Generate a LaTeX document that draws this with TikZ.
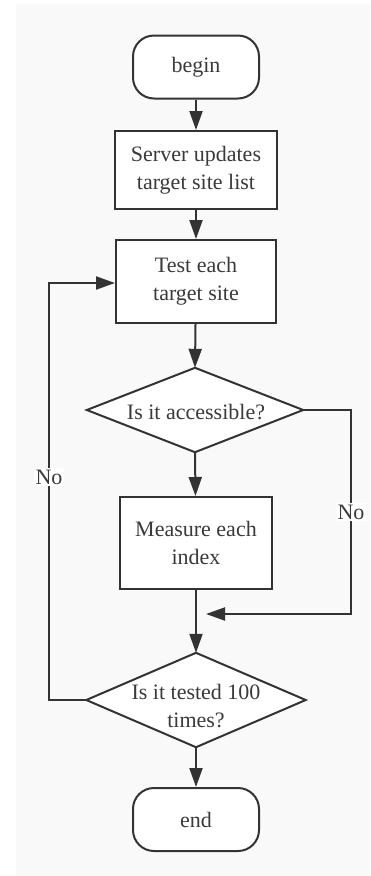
\documentclass[tikz,border=0pt]{standalone}
\usepackage{fontspec}
\setmainfont{Liberation Serif}
\usetikzlibrary{arrows.meta}
\definecolor{ink}{HTML}{333333}
\definecolor{txt}{HTML}{3A3A3A}
\definecolor{paper}{HTML}{F9F9F9}
\begin{document}
\begin{tikzpicture}[x=1pt,y=-1pt,
  every node/.style={font=\fontsize{22}{28}\selectfont, text=txt, align=center},
  terminal/.style={draw=ink, line width=2pt, fill=white, rounded corners=21pt,
    minimum width=126pt, minimum height=63pt, inner sep=0pt},
  process/.style={draw=ink, line width=2pt, fill=white, inner sep=0pt},
  decision/.style={draw=none, inner sep=0pt},
  flow/.style={draw=ink, line width=2pt, -{Triangle[length=19pt,width=13pt]}},
  plain/.style={draw=ink, line width=2pt},
  tag/.style={fill=white, inner sep=2pt}]
  % canvas
  \useasboundingbox (0,0) rectangle (370,876);
  \fill[white] (0,0) rectangle (370,876);
  \fill[paper] (16,4) rectangle (370,876);

  % nodes
  \node[terminal] (begin) at (196,67) {begin};
  \node[process, minimum width=162pt, minimum height=78pt] (server) at (196,170)
    {Server updates\\target site list};
  \node[process, minimum width=160pt, minimum height=83pt] (test) at (196,281.5)
    {Test each\\target site};

  \node[decision, minimum width=216pt, minimum height=84pt] (acc) at (195,410) {};
  \fill[white] (acc.north) -- (acc.east) -- (acc.south) -- (acc.west) -- cycle;
  \draw[plain, line join=miter] (acc.north) -- (acc.east) -- (acc.south) -- (acc.west) -- cycle;
  \node at (196,412) {Is it accessible?};

  \node[process, minimum width=152pt, minimum height=92pt] (measure) at (196,543)
    {Measure each\\index};

  \node[decision, minimum width=219pt, minimum height=94pt] (times) at (196,700) {};
  \fill[white] (times.north) -- (times.east) -- (times.south) -- (times.west) -- cycle;
  \draw[plain, line join=miter] (times.north) -- (times.east) -- (times.south) -- (times.west) -- cycle;
  \node at (196,706) {Is it tested 100\\times?};

  \node[terminal] (end) at (196,819.5) {end};

  % connectors
  \coordinate (rturn) at (351,410);
  \coordinate (merge) at (206,614);
  \coordinate (lturn) at (49,283);

  \draw[flow] (begin) -- (server);
  \draw[flow] (server) -- (test);
  \draw[flow] (test) -- (acc.north);
  \draw[flow] (acc.south) -- (measure);
  \draw[flow] (measure) -- (times.north);
  \draw[flow] (times.south) -- (end);

  \draw[flow] (acc.east) -- (rturn) |- (merge);
  \draw[flow] (times.west) -| (lturn) -- (test.west |- lturn);

  % branch labels
  \node[tag] at (351,512) {No};
  \node[tag] at (49,477) {No};
\end{tikzpicture}
\end{document}
